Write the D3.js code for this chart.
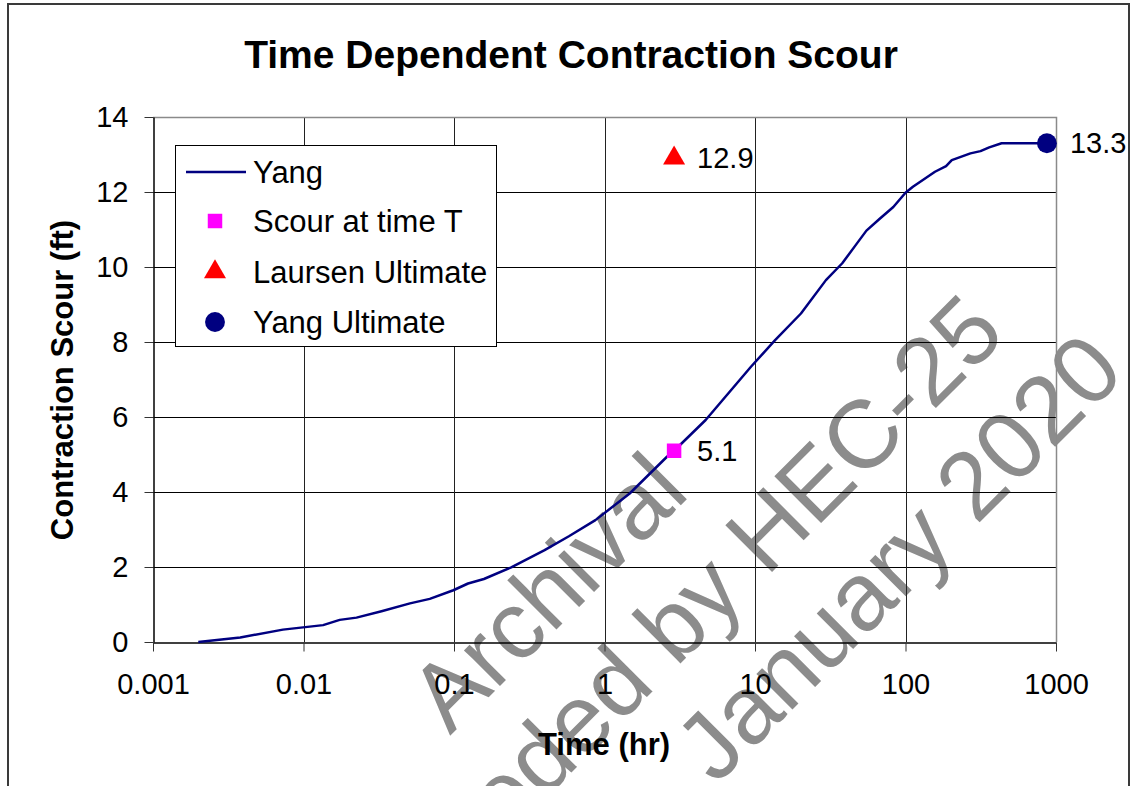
<!DOCTYPE html>
<html>
<head>
<meta charset="utf-8">
<script src="https://cdn.jsdelivr.net/npm/d3@7"></script>
<style>
  html, body { margin: 0; padding: 0; background: #fff; }
  svg { display: block; font-family: "Liberation Sans", Arial, sans-serif; }
</style>
</head>
<body>
<svg id="chart" width="1131" height="786"></svg>
<script>
// Yang time-dependent contraction scour curve
const yangTime = [0.002, 0.0038, 0.0073, 0.0135, 0.0174, 0.0225, 0.033, 0.051, 0.069, 0.099,
  0.124, 0.158, 0.24, 0.40, 0.58, 0.87, 1.47, 2.6, 2.9, 4.7, 9.4, 13.6, 20.2, 29.6, 38, 46,
  55, 68, 83, 100, 112, 157, 186, 203, 270, 315, 360, 435, 870];
const yangDepth = [0, 0.12, 0.33, 0.45, 0.59, 0.65, 0.82, 1.03, 1.15, 1.38,
  1.56, 1.68, 1.99, 2.45, 2.82, 3.25, 3.96, 4.94, 5.1, 5.92, 7.34, 8.05, 8.76, 9.65, 10.1, 10.55,
  10.97, 11.3, 11.6, 11.98, 12.14, 12.54, 12.69, 12.85, 13.03, 13.09, 13.19, 13.3, 13.3];

// Single-point results
const pointNames = ["Scour at time T", "Laursen Ultimate", "Yang Ultimate"];
const pointTimes = [2.9, 2.9, 870];
const pointDepths = [5.1, 12.9, 13.3];
const pointLabels = ["5.1", "12.9", "13.3"];

// Axis ticks
const xTicks = [0.001, 0.01, 0.1, 1, 10, 100, 1000];
const xTickLabels = ["0.001", "0.01", "0.1", "1", "10", "100", "1000"];
const yTicks = [0, 2, 4, 6, 8, 10, 12, 14];

const legendNames = ["Yang", "Scour at time T", "Laursen Ultimate", "Yang Ultimate"];
const watermarkLines = ["Archival", "Superseded by HEC-25", "January 2020"];

const svg = d3.select("#chart");
const plot = { left: 153, right: 1056, top: 117, bottom: 642 };

const x = d3.scaleLog().domain([0.001, 1000]).range([plot.left, plot.right]);
const y = d3.scaleLinear().domain([0, 14]).range([plot.bottom, plot.top]);

// Outer chart frame
svg.append("rect")
  .attr("x", 8).attr("y", 4).attr("width", 1121).attr("height", 800)
  .attr("fill", "#fff").attr("stroke", "#3a3a3a").attr("stroke-width", 2);

// Stamp text, drawn underneath the chart marks
const stamp = svg.append("g").attr("fill", "#8c8c8c")
  .attr("font-size", 96).attr("font-family", "Liberation Sans, Arial, sans-serif");
const stampAnchors = [[450, 736], [291, 1053], [716, 786]];
watermarkLines.forEach((t, i) => {
  stamp.append("text")
    .attr("transform", `translate(${stampAnchors[i][0]},${stampAnchors[i][1]}) rotate(-45)`)
    .text(t);
});

// Gridlines
const grid = svg.append("g");
grid.selectAll("line.h").data(yTicks.filter(d => d > 0 && d < 14)).join("line")
  .attr("x1", plot.left).attr("x2", plot.right)
  .attr("y1", d => Math.round(y(d)) + 0.5).attr("y2", d => Math.round(y(d)) + 0.5)
  .attr("stroke", "#000").attr("stroke-width", 1);
grid.selectAll("line.v").data(xTicks.slice(1, -1)).join("line")
  .attr("y1", plot.top).attr("y2", plot.bottom)
  .attr("x1", d => Math.round(x(d)) + 0.5).attr("x2", d => Math.round(x(d)) + 0.5)
  .attr("stroke", "#222").attr("stroke-width", 1);

// Plot frame: top and right in grey
svg.append("path")
  .attr("d", `M${plot.left},${plot.top + 0.5}H${plot.right + 0.5}V${plot.bottom}`)
  .attr("fill", "none").attr("stroke", "#8a8a8a").attr("stroke-width", 1.5);

// Axes
const xAxis = d3.axisBottom(x).tickValues(xTicks)
  .tickFormat((d, i) => xTickLabels[i]).tickSizeInner(9).tickSizeOuter(0).tickPadding(22);
const gx = svg.append("g").attr("transform", `translate(0,${plot.bottom + 0.5})`).call(xAxis);
gx.select(".domain").attr("stroke", "#000").attr("stroke-width", 1.5);
gx.selectAll(".tick line").attr("stroke", "#333");
gx.selectAll(".tick text").attr("font-size", 29).attr("fill", "#000")
  .attr("font-family", "Liberation Sans, Arial, sans-serif");

const yAxis = d3.axisLeft(y).tickValues(yTicks).tickSizeInner(9).tickSizeOuter(0).tickPadding(16);
const gy = svg.append("g").attr("transform", `translate(${plot.left + 0.5},0)`).call(yAxis);
gy.select(".domain").attr("stroke", "#000").attr("stroke-width", 1.5);
gy.selectAll(".tick line").attr("stroke", "#333");
gy.selectAll(".tick text").attr("font-size", 29).attr("fill", "#000")
  .attr("font-family", "Liberation Sans, Arial, sans-serif");

// Titles
svg.append("text").attr("x", 571).attr("y", 68).attr("text-anchor", "middle")
  .attr("font-size", 39).attr("font-weight", "bold").text("Time Dependent Contraction Scour");
svg.append("text").attr("x", 604).attr("y", 755).attr("text-anchor", "middle")
  .attr("font-size", 31).attr("font-weight", "bold").text("Time (hr)");
svg.append("text").attr("transform", "translate(73,380) rotate(-90)").attr("text-anchor", "middle")
  .attr("font-size", 31).attr("font-weight", "bold").text("Contraction Scour (ft)");

// Yang curve
const line = d3.line().x(d => x(d[0])).y(d => y(d[1]));
svg.append("path")
  .datum(yangTime.map((t, i) => [t, yangDepth[i]]))
  .attr("d", line).attr("fill", "none").attr("stroke", "#000080").attr("stroke-width", 2.5)
  .attr("stroke-linejoin", "round");

// Marker shapes
const sym = {
  "Scour at time T": d3.symbol(d3.symbolSquare, 210),
  "Laursen Ultimate": d3.symbol(d3.symbolTriangle, 210),
  "Yang Ultimate": d3.symbol(d3.symbolCircle, 310)
};
const col = { "Scour at time T": "#ff00ff", "Laursen Ultimate": "#ff0000", "Yang Ultimate": "#000080" };

pointNames.forEach((n, i) => {
  const px = x(pointTimes[i]), py = y(pointDepths[i]);
  svg.append("path").attr("d", sym[n]()).attr("fill", col[n])
    .attr("transform", `translate(${px},${py})`);
  svg.append("text").attr("x", px + 23).attr("y", py).attr("dy", "0.35em")
    .attr("font-size", 29).text(pointLabels[i]);
});

// Legend
const lg = svg.append("g");
lg.append("rect").attr("x", 175.5).attr("y", 145.5).attr("width", 321).attr("height", 201)
  .attr("fill", "#fff").attr("stroke", "#000").attr("stroke-width", 1);
const rowY = [172, 221, 272, 322];
legendNames.forEach((n, i) => {
  if (i === 0) {
    lg.append("line").attr("x1", 186).attr("x2", 246).attr("y1", rowY[i]).attr("y2", rowY[i])
      .attr("stroke", "#000080").attr("stroke-width", 2.5);
  } else {
    lg.append("path").attr("d", sym[n]()).attr("fill", col[n])
      .attr("transform", `translate(215,${rowY[i]})`);
  }
  lg.append("text").attr("x", 253).attr("y", rowY[i]).attr("dy", "0.35em")
    .attr("font-size", 31).text(n);
});
</script>
</body>
</html>
